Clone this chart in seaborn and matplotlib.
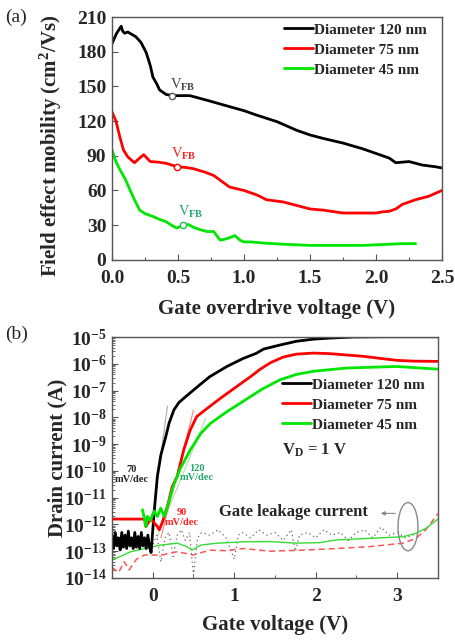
import numpy as np
import pandas as pd
import matplotlib
matplotlib.use("Agg")
import matplotlib.pyplot as plt
import seaborn as sns
from matplotlib.patches import Ellipse
from matplotlib.ticker import MultipleLocator, LogLocator, FixedLocator, FuncFormatter, NullFormatter
from matplotlib.lines import Line2D

# ---------------- data: panel (a) field-effect mobility ----------------
labels = ["Diameter 120 nm", "Diameter 75 nm", "Diameter 45 nm"]
colors = ["#000000", "#ff0000", "#00e600"]

vov_120 = [0, 0.035, 0.07, 0.08, 0.095, 0.12, 0.18, 0.22, 0.26, 0.29, 0.31, 0.34, 0.36, 0.41,
           0.47, 0.59, 0.72, 0.89, 1.0, 1.1, 1.25, 1.4, 1.5, 1.6, 1.75, 1.9, 2.0, 2.1, 2.15,
           2.25, 2.35, 2.45, 2.5]
mu_120 = [187, 196, 202, 198, 196, 197, 193, 188, 179, 168, 158, 152, 147, 143,
          142, 142, 138, 132.5, 129, 125, 119.5, 112, 108, 105, 101, 96, 92, 88, 84,
          85, 82, 80.5, 79.5]

vov_75 = [0, 0.03, 0.06, 0.087, 0.12, 0.17, 0.21, 0.24, 0.29, 0.35, 0.41, 0.49, 0.55, 0.61,
          0.7, 0.77, 0.83, 0.89, 1.0, 1.1, 1.17, 1.3, 1.4, 1.5, 1.6, 1.75, 1.9, 2.0, 2.05,
          2.1, 2.15, 2.2, 2.3, 2.4, 2.5]
mu_75 = [128, 120, 106, 95, 89, 84, 88, 91, 85, 84.5, 83.5, 80.6, 80, 79,
         76, 73, 68, 63, 60, 56, 52, 50, 47, 44, 43, 40.5, 40.5, 40.5, 41.5,
         42, 44, 48, 52, 55, 60]

vov_45 = [0, 0.03, 0.06, 0.1, 0.136, 0.17, 0.21, 0.25, 0.31, 0.36, 0.41, 0.45, 0.49, 0.54,
          0.58, 0.62, 0.67, 0.72, 0.77, 0.82, 0.86, 0.9, 0.93, 0.97, 1.0, 1.05, 1.15, 1.3,
          1.5, 1.7, 1.9, 2.0, 2.1, 2.2, 2.3]
mu_45 = [95, 85, 78, 70, 60.5, 52, 43, 40, 37.5, 35, 33, 30, 27.5, 30,
         30.5, 28, 26, 24.5, 24.5, 17, 18, 19.5, 21, 17, 15.5, 15.5, 14.5, 13.5,
         12.5, 12.5, 12.5, 13, 13.5, 14, 14]

vfb_x = [0.457, 0.49, 0.54]
vfb_mu = [142, 80.6, 30.2]

# ---------------- data: panel (b) transfer curves (log10 of current in A) ----------------
vg_120 = [-0.5, -0.48, -0.46, -0.44, -0.42, -0.40, -0.38, -0.36, -0.34, -0.32, -0.30, -0.28,
          -0.26, -0.24, -0.22, -0.20, -0.18, -0.16, -0.14, -0.12, -0.10, -0.08, -0.06, -0.04,
          -0.02, 0.016, 0.057, 0.1, 0.16, 0.2, 0.26, 0.32, 0.38, 0.5, 0.7, 0.91, 1.11, 1.27,
          1.36, 1.56, 1.76, 1.97, 2.17, 2.45, 2.8, 3.2, 3.5]
logid_120 = [-12.4, -12.9, -12.3, -12.8, -12.5, -12.95, -12.3, -12.85, -12.4, -12.9, -12.25, -12.8,
             -12.5, -12.9, -12.3, -12.85, -12.45, -12.9, -12.3, -12.8, -12.5, -12.9, -12.4, -12.85,
             -13.05, -11.58, -10.2, -9.4, -8.72, -8.22, -7.72, -7.45, -7.29, -6.98, -6.48, -6.1,
             -5.8, -5.61, -5.45, -5.3, -5.16, -5.08, -5.04, -5.0, -4.99, -4.99, -4.99]

vg_75 = [-0.5, -0.1, -0.085, -0.06, -0.02, 0.02, 0.05, 0.08, 0.12, 0.18, 0.24, 0.3, 0.38,
         0.46, 0.54, 0.67, 0.83, 1.03, 1.2, 1.32, 1.45, 1.6, 1.76, 1.97, 2.17, 2.58, 2.99,
         3.2, 3.5]
logid_75 = [-11.8, -11.8, -12.08, -11.95, -11.8, -11.95, -12.05, -12.2, -11.9, -11.33, -10.58,
            -10.21, -9.22, -8.47, -7.97, -7.66, -7.29, -6.85, -6.48, -6.2, -5.95, -5.75, -5.64,
            -5.6, -5.62, -5.72, -5.87, -5.9, -5.91]

vg_45 = [-0.126, -0.1, -0.085, -0.065, -0.03, 0.016, 0.057, 0.098, 0.14, 0.18, 0.26, 0.34,
         0.46, 0.59, 0.71, 0.91, 1.11, 1.34, 1.56, 1.76, 1.97, 2.37, 2.99, 3.5]
logid_45 = [-11.45, -11.8, -12.08, -11.7, -11.85, -11.5, -11.7, -11.39, -11.7, -11.33, -10.5, -9.9,
            -9.22, -8.6, -8.22, -7.79, -7.4, -6.95, -6.6, -6.4, -6.28, -6.16, -6.1, -6.2]

# subthreshold-swing guide lines (endpoints)
fit_x_120 = [0.03, 0.18]
fit_log_120 = [-11.0, -7.58]
fit_x_75 = [0.1, 0.5]
fit_log_75 = [-12.5, -7.73]
fit_x_45 = [0.05, 0.65]
fit_log_45 = [-12.5, -8.04]
swing_labels = ["70\nmV/dec", "90\nmV/dec", "120\nmV/dec"]

# gate leakage currents (log10 A)
leak_vg_75 = [-0.5, -0.42, -0.35, -0.29, -0.2, -0.1, 0.1, 0.3, 0.5, 0.7, 0.9, 1.11, 1.44, 1.85,
              2.25, 2.66, 3.07, 3.23, 3.35, 3.5]
leak_log_75 = [-13.6, -13.8, -13.39, -13.7, -13.3, -13.14, -13.15, -13.02, -13.14, -12.96, -12.98,
               -12.9, -13.0, -12.96, -12.9, -12.83, -12.7, -12.52, -12.2, -11.6]

leak_vg_45 = [-0.5, -0.4, -0.27, -0.1, 0.1, 0.3, 0.42, 0.48, 0.59, 0.79, 1.12, 1.44, 1.76, 2.05,
              2.25, 2.66, 3.07, 3.23, 3.35, 3.5]
leak_log_45 = [-13.32, -13.2, -13.02, -12.9, -12.77, -12.7, -12.83, -12.96, -12.77, -12.7, -12.65,
               -12.64, -12.7, -12.68, -12.58, -12.52, -12.46, -12.33, -12.15, -11.8]

leak_vg_120 = [-0.1, -0.05, 0.0, 0.05, 0.1, 0.15, 0.2, 0.25, 0.3, 0.35, 0.4, 0.45, 0.5, 0.55,
               0.6, 0.7, 0.8, 0.9, 1.0, 1.05, 1.1, 1.2, 1.3, 1.4, 1.5, 1.6, 1.7, 1.75, 1.8,
               1.9, 2.0, 2.1, 2.2, 2.3, 2.4, 2.5, 2.6, 2.7, 2.8, 2.9, 3.0, 3.1, 3.2]
leak_log_120 = [-12.9, -12.6, -12.8, -12.4, -13.4, -12.5, -12.3, -13.2, -12.4, -12.2, -12.6,
                -12.3, -13.9, -12.5, -12.3, -12.4, -12.2, -12.5, -13.3, -12.4, -12.3, -12.5,
                -12.2, -12.4, -12.3, -12.6, -12.2, -13.0, -12.4, -12.3, -12.5, -12.2, -12.4,
                -12.3, -12.6, -12.3, -12.2, -12.5, -12.1, -12.4, -12.3, -12.5, -12.4]

# ---------------- style ----------------
sns.set_style("ticks")
plt.rcParams.update({
    "font.family": ["Liberation Serif", "DejaVu Serif"],
    "font.weight": "bold",
    "axes.labelweight": "bold",
    "mathtext.fontset": "custom",
    "mathtext.rm": "Liberation Serif",
    "mathtext.it": "Liberation Serif:italic",
    "mathtext.bf": "Liberation Serif:bold",
    "xtick.direction": "in",
    "ytick.direction": "in",
    "axes.edgecolor": "#555555",
    "axes.linewidth": 1.0,
})

fig = plt.figure(figsize=(4.56, 6.4), dpi=100)
ax1 = fig.add_axes([0.2456, 0.594, 0.7237, 0.3794])
ax2 = fig.add_axes([0.2456, 0.0969, 0.7149, 0.3765])

tick_fs = 14
lab_fs = 15
leg_fs = 11

# ---------------- panel (a) ----------------
series_a = [(vov_120, mu_120), (vov_75, mu_75), (vov_45, mu_45)]
for (xv, yv), c, lab in zip(series_a, colors, labels):
    df = pd.DataFrame({"x": xv, "y": yv})
    sns.lineplot(data=df, x="x", y="y", ax=ax1, color=c, lw=2.0, sort=False,
                 estimator=None, label=lab)

vfb_df = pd.DataFrame({"x": vfb_x, "y": vfb_mu})
edge_cols = ["#555555", "#ff0000", "#22bb55"]
for i in range(3):
    ax1.plot(vfb_df.x[i], vfb_df.y[i], "o", ms=4.5, mfc="white", mec=edge_cols[i], mew=1.0, zorder=5)
vfb_txt_cols = ["#444444", "#ff2222", "#22aa66"]
vfb_txt_pos = [(0.44, 151), (0.45, 92), (0.50, 41)]
for (tx, ty), c in zip(vfb_txt_pos, vfb_txt_cols):
    ax1.text(tx, ty, r"V$_{\mathrm{FB}}$", color=c, fontsize=10.5, fontweight="normal",
             ha="left", va="center")

ax1.set_xlim(0, 2.5)
ax1.set_ylim(0, 210)
ax1.xaxis.set_major_locator(MultipleLocator(0.5))
ax1.xaxis.set_minor_locator(MultipleLocator(0.25))
ax1.yaxis.set_major_locator(MultipleLocator(30))
ax1.xaxis.set_major_formatter(FuncFormatter(lambda v, p: f"{v:.1f}"))
ax1.tick_params(axis="both", which="major", labelsize=tick_fs, length=4, width=0.8,
                color="#555555")
ax1.tick_params(axis="x", which="major", pad=7)
ax1.tick_params(axis="y", which="major", pad=4)
ax1.tick_params(axis="both", which="minor", length=2.5, width=0.8, color="#555555")
for t in ax1.get_xticklabels() + ax1.get_yticklabels():
    t.set_fontweight("bold")
ax1.set_xlabel("Gate overdrive voltage (V)", fontsize=lab_fs, fontweight="bold")
ax1.set_ylabel(r"Field effect mobility (cm$^{\mathbf{2}}$/Vs)", fontsize=lab_fs, fontweight="bold")
ax1.xaxis.set_label_coords(0.5, -0.16)
ax1.yaxis.set_label_coords(-0.145, 0.47)
ax1.legend(loc="upper left", bbox_to_anchor=(0.52, 0.975), frameon=False,
           handlelength=1.9, handletextpad=0.1, labelspacing=0.41, borderpad=0, borderaxespad=0,
           prop={"weight": "bold", "size": leg_fs})

# ---------------- panel (b) ----------------
series_b = [(vg_120, logid_120), (vg_75, logid_75), (vg_45, logid_45)]
handles = []
for (xv, yv), c, lab in zip(series_b, colors, labels):
    df = pd.DataFrame({"x": xv, "I": 10.0 ** np.array(yv)})
    sns.lineplot(data=df, x="x", y="I", ax=ax2, color=c, lw=2.0, sort=False, estimator=None)
    handles.append(Line2D([], [], color=c, lw=2.0, label=lab))

fits = [(fit_x_120, fit_log_120, "#aaaaaa"), (fit_x_75, fit_log_75, "#ff8080"),
        (fit_x_45, fit_log_45, "#b0e0a0")]
for fx, fl, c in fits:
    df = pd.DataFrame({"x": fx, "I": 10.0 ** np.array(fl)})
    sns.lineplot(data=df, x="x", y="I", ax=ax2, color=c, lw=0.8, sort=False, estimator=None, zorder=1)

leaks = [(leak_vg_120, leak_log_120, "#666666", (0, (1, 2.5)), 0.9),
         (leak_vg_75, leak_log_75, "#ff5555", (0, (4, 2.5)), 1.1),
         (leak_vg_45, leak_log_45, "#33dd33", "-", 1.0)]
for lx, ll, c, ls, lw in leaks:
    df = pd.DataFrame({"x": lx, "I": 10.0 ** np.array(ll)})
    sns.lineplot(data=df, x="x", y="I", ax=ax2, color=c, lw=lw, linestyle=ls, sort=False,
                 estimator=None, zorder=1)

ax2.set_yscale("log")
ax2.set_xlim(-0.5, 3.5)
ax2.set_ylim(1e-14, 1e-5)
ax2.xaxis.set_major_locator(MultipleLocator(1))
ax2.xaxis.set_minor_locator(MultipleLocator(0.5))
ax2.yaxis.set_major_locator(FixedLocator([10.0 ** k for k in range(-14, -4)]))
ax2.yaxis.set_minor_locator(LogLocator(base=10, subs=np.arange(2, 10), numticks=50))
ax2.yaxis.set_minor_formatter(NullFormatter())
ax2.yaxis.set_major_formatter(FuncFormatter(
    lambda v, p: r"$\mathbf{10^{%d}}$" % int(round(np.log10(v)))))
ax2.xaxis.set_major_formatter(FuncFormatter(lambda v, p: f"{int(round(v))}"))
ax2.tick_params(axis="both", which="major", labelsize=tick_fs, length=4, width=0.8,
                color="#555555")
ax2.tick_params(axis="x", which="major", pad=7)
ax2.tick_params(axis="y", which="major", pad=4)
ax2.tick_params(axis="both", which="minor", length=2, width=0.6, color="#555555")
for t in ax2.get_xticklabels() + ax2.get_yticklabels():
    t.set_fontweight("bold")
ax2.set_xlabel("Gate voltage (V)", fontsize=lab_fs, fontweight="bold")
ax2.set_ylabel("Drain current (A)", fontsize=lab_fs, fontweight="bold")
ax2.xaxis.set_label_coords(0.5, -0.155)
ax2.yaxis.set_label_coords(-0.138, 0.5)
ax2.legend(handles=handles, loc="upper left", bbox_to_anchor=(0.521, 0.83), frameon=False,
           handlelength=1.9, handletextpad=0.1, labelspacing=0.41, borderpad=0, borderaxespad=0,
           prop={"weight": "bold", "size": leg_fs})

ax2.text(0.521, 0.531, r"V$_{\mathbf{D}}$ = 1 V", transform=ax2.transAxes, fontsize=12,
         fontweight="bold", ha="left", va="center")

swing_pos = [(0.061, 0.43), (0.214, 0.251), (0.26, 0.436)]
swing_cols = ["#222222", "#ff2222", "#22aa66"]
for lab, (px, py), c in zip(swing_labels, swing_pos, swing_cols):
    ax2.text(px, py, lab, transform=ax2.transAxes, fontsize=7.5, fontweight="bold", color=c,
             ha="center", va="center", linespacing=1.1)

ax2.text(0.785, 0.275, "Gate leakage current", transform=ax2.transAxes, fontsize=12,
         fontweight="bold", ha="right", va="center")
ax2.annotate("", xy=(0.816, 0.268), xytext=(0.877, 0.268), xycoords="axes fraction",
             arrowprops=dict(arrowstyle="-|>", color="#888888", lw=0.8, mutation_scale=6))
ax2.add_patch(Ellipse((0.908, 0.213), 0.061, 0.2, transform=ax2.transAxes, fill=False,
                      ec="#888888", lw=1.0))

fig.text(0.012, 0.973, "(a)", fontsize=14, fontweight="normal", ha="left", va="center")
fig.text(0.012, 0.477, "(b)", fontsize=14, fontweight="normal", ha="left", va="center")

fig.savefig("out.png", dpi=100)
